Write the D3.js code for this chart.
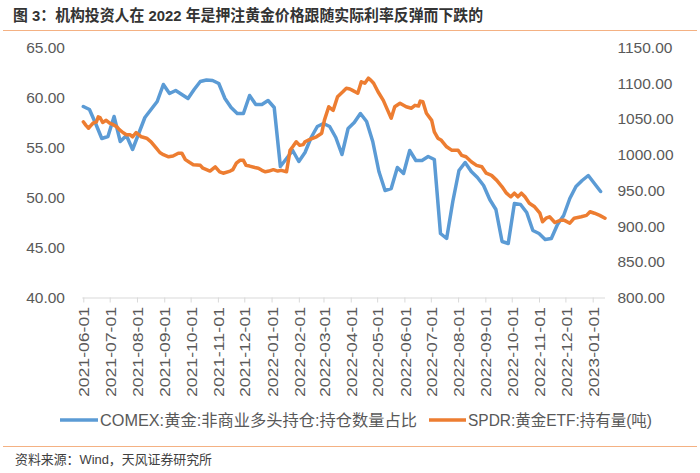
<!DOCTYPE html>
<html>
<head>
<meta charset="utf-8">
<script src="https://cdn.jsdelivr.net/npm/d3@7"></script>
<style>
  html, body { margin: 0; padding: 0; background: #ffffff; }
  svg { display: block; }
  text { font-family: "Liberation Sans", "Noto Sans CJK SC", sans-serif; }
</style>
</head>
<body>
<svg id="chart" width="700" height="473"></svg>
<script>
// ---------------- data ----------------
const titleText = "图 3：机构投资人在 2022 年是押注黄金价格跟随实际利率反弹而下跌的";
const sourceText = "资料来源：Wind，天风证券研究所";
const seriesNames = ["COMEX:黄金:非商业多头持仓:持仓数量占比", "SPDR:黄金ETF:持有量(吨)"];

// COMEX weekly (%), first week 2021-06-01
const comexStart = "2021-06-01";
const comexValues = [
  59.1, 58.8, 57.4, 55.9, 56.1, 58.1, 55.6, 56.2, 54.8, 56.4,
  58.0, 58.8, 59.6, 61.3, 60.4, 60.7, 60.3, 59.9, 60.8, 61.6,
  61.75, 61.7, 61.4, 59.9, 59.0, 58.4, 58.4, 60.2, 59.3, 59.3,
  59.7, 59.0, 53.1, 53.9, 54.7, 53.6, 54.5, 56.0, 57.1, 57.4,
  57.1, 56.0, 54.3, 56.9, 57.5, 58.4, 57.6, 55.6, 52.6, 50.7,
  50.9, 53.0, 52.4, 54.7, 53.7, 53.7, 54.1, 53.8, 46.4, 45.9,
  49.6, 52.7, 53.5, 52.6, 52.0, 51.2, 49.8, 48.8, 45.6, 45.4,
  49.4, 49.3, 48.5, 46.7, 46.4, 45.8, 45.9, 47.3, 48.2, 49.9,
  51.1, 51.7, 52.2, 51.4, 50.6
];

// SPDR holdings (tonnes)
const spdrDates = [
  "2021-06-01","2021-06-04","2021-06-07","2021-06-09","2021-06-12","2021-06-16","2021-06-18","2021-06-20","2021-06-23","2021-06-27",
  "2021-07-01","2021-07-05","2021-07-09","2021-07-12","2021-07-16","2021-07-20","2021-07-24","2021-07-27","2021-07-31","2021-08-06",
  "2021-08-12","2021-08-17","2021-08-23","2021-08-27","2021-08-31","2021-09-06","2021-09-11","2021-09-17","2021-09-21","2021-09-25",
  "2021-09-30","2021-10-04","2021-10-12","2021-10-15","2021-10-23","2021-10-29","2021-11-03","2021-11-07","2021-11-15","2021-11-18",
  "2021-11-22","2021-11-26","2021-11-30","2021-12-03","2021-12-07","2021-12-13","2021-12-17","2021-12-21","2021-12-25","2021-12-29",
  "2022-01-03","2022-01-08","2022-01-12","2022-01-18","2022-01-22","2022-01-25","2022-01-29","2022-02-02","2022-02-06","2022-02-08",
  "2022-02-13","2022-02-21","2022-02-27","2022-03-02","2022-03-07","2022-03-12","2022-03-17","2022-03-23","2022-03-27","2022-03-31",
  "2022-04-03","2022-04-09","2022-04-13","2022-04-17","2022-04-21","2022-04-24","2022-04-27","2022-05-02","2022-05-08","2022-05-13",
  "2022-05-17","2022-05-21","2022-05-27","2022-06-03","2022-06-09","2022-06-13","2022-06-17","2022-06-19","2022-06-22","2022-06-26",
  "2022-07-02","2022-07-05","2022-07-09","2022-07-13","2022-07-19","2022-07-25","2022-08-01","2022-08-05","2022-08-10","2022-08-16",
  "2022-08-22","2022-08-28","2022-09-02","2022-09-08","2022-09-14","2022-09-20","2022-09-25","2022-09-30","2022-10-04","2022-10-08",
  "2022-10-12","2022-10-16","2022-10-21","2022-10-27","2022-11-02","2022-11-05","2022-11-09","2022-11-13","2022-11-19","2022-11-25",
  "2022-11-30","2022-12-06","2022-12-11","2022-12-19","2022-12-25","2022-12-29","2023-01-03","2023-01-09","2023-01-15"
];
const spdrValues = [
  1046, 1041, 1037, 1040, 1044, 1046, 1053, 1052, 1045, 1048,
  1044, 1042, 1039, 1035, 1031, 1028, 1028, 1025, 1031, 1025,
  1023, 1018, 1009, 1003, 1000, 997, 998, 1002, 1002, 993,
  989, 986, 985, 981, 977, 983, 976, 974, 977, 979,
  988, 992, 992, 985, 984, 982, 981, 978, 976, 977,
  979, 977, 978, 976, 1006, 1011, 1018, 1013, 1014, 1018,
  1021, 1025, 1030, 1048, 1067, 1062, 1081, 1088, 1093, 1092,
  1090, 1086, 1102, 1100, 1107, 1104, 1100, 1088, 1076, 1062,
  1051, 1067, 1072, 1067, 1065, 1069, 1068, 1075, 1074, 1058,
  1048, 1032, 1023, 1020, 1011, 1006, 1006, 999, 997, 990,
  985, 983, 974, 971, 964, 955, 946, 941, 946, 941,
  946, 941, 932, 927, 918, 906, 911, 913, 905, 908,
  908, 904, 911, 913, 915, 920, 918, 915, 911
];

const monthTicks = [
  "2021-06-01","2021-07-01","2021-08-01","2021-09-01","2021-10-01","2021-11-01","2021-12-01",
  "2022-01-01","2022-02-01","2022-03-01","2022-04-01","2022-05-01","2022-06-01","2022-07-01",
  "2022-08-01","2022-09-01","2022-10-01","2022-11-01","2022-12-01","2023-01-01"
];
const xDomain = ["2021-06-01", "2023-01-15"];
const leftTicks = [40, 45, 50, 55, 60, 65];
const rightTicks = [800, 850, 900, 950, 1000, 1050, 1100, 1150];

// ---------------- drawing ----------------
const parse = d3.timeParse("%Y-%m-%d");
const svg = d3.select("#chart");
const grey = "#595959";
const blue = "#5B9BD5";
const orange = "#ED7D31";
const rule = "#F4B183";

const x = d3.scaleTime().domain(xDomain.map(parse)).range([83.3, 605]);
const yL = d3.scaleLinear().domain([40, 65]).range([297.5, 47.5]);
const yR = d3.scaleLinear().domain([800, 1150]).range([297.5, 47.5]);

// title
svg.append("text")
  .attr("x", 13).attr("y", 21)
  .attr("font-size", 15.5).attr("font-weight", "bold").attr("fill", "#333333")
  .attr("textLength", 470).attr("lengthAdjust", "spacingAndGlyphs")
  .text(titleText);
svg.append("line").attr("x1", 3).attr("x2", 697).attr("y1", 30.5).attr("y2", 30.5)
  .attr("stroke", rule).attr("stroke-width", 1.2);

// left axis
const gL = svg.append("g").attr("transform", "translate(65,0)")
  .call(d3.axisLeft(yL).tickValues(leftTicks).tickFormat(d3.format(".2f")).tickSize(0).tickPadding(0));
gL.select(".domain").remove();
gL.selectAll("text").attr("font-size", 15.5).attr("fill", grey)
  .attr("font-family", "'Liberation Sans', sans-serif");

// right axis
const gR = svg.append("g").attr("transform", "translate(617.5,0)")
  .call(d3.axisRight(yR).tickValues(rightTicks).tickFormat(d3.format(".2f")).tickSize(0).tickPadding(0));
gR.select(".domain").remove();
gR.selectAll("text").attr("font-size", 15.5).attr("fill", grey)
  .attr("font-family", "'Liberation Sans', sans-serif");

// bottom axis
const gX = svg.append("g").attr("transform", "translate(0,297.5)")
  .call(d3.axisBottom(x).tickValues(monthTicks.map(parse))
    .tickFormat(d3.timeFormat("%Y-%m-%d")).tickSize(5).tickSizeOuter(0).tickPadding(0));
gX.select(".domain").attr("stroke", "#D9D9D9").attr("stroke-width", 1)
  .attr("d", "M82.3,0.5H605");
gX.selectAll(".tick line").attr("stroke", "#D9D9D9");
gX.selectAll("text")
  .attr("font-size", 15.5).attr("fill", grey)
  .attr("font-family", "'Liberation Sans', sans-serif")
  .attr("transform", "rotate(-90)")
  .attr("text-anchor", "end")
  .attr("x", -9.5).attr("y", 0).attr("dy", "0.36em")
  .attr("textLength", 90).attr("lengthAdjust", "spacingAndGlyphs");

// lines
const comexData = comexValues.map((v, i) => ({ d: d3.timeDay.offset(parse(comexStart), 7 * i), v }));
const spdrData = spdrDates.map((s, i) => ({ d: parse(s), v: spdrValues[i] }));

svg.append("path").datum(comexData)
  .attr("fill", "none").attr("stroke", blue).attr("stroke-width", 3.5)
  .attr("stroke-linejoin", "round").attr("stroke-linecap", "round")
  .attr("d", d3.line().x(p => x(p.d)).y(p => yL(p.v)));

svg.append("path").datum(spdrData)
  .attr("fill", "none").attr("stroke", orange).attr("stroke-width", 3.5)
  .attr("stroke-linejoin", "round").attr("stroke-linecap", "round")
  .attr("d", d3.line().x(p => x(p.d)).y(p => yR(p.v)));

// legend
const legendY = 420;
const legend = [
  { x1: 60, x2: 98, tx: 100, tl: 317, color: blue, name: seriesNames[0] },
  { x1: 429, x2: 466, tx: 468, tl: 184, color: orange, name: seriesNames[1] }
];
legend.forEach(l => {
  svg.append("line").attr("x1", l.x1).attr("x2", l.x2).attr("y1", legendY).attr("y2", legendY)
    .attr("stroke", l.color).attr("stroke-width", 3.5);
  svg.append("text").attr("x", l.tx).attr("y", legendY).attr("dy", "0.36em")
    .attr("font-size", 16).attr("fill", grey)
    .attr("textLength", l.tl).attr("lengthAdjust", "spacingAndGlyphs")
    .text(l.name);
});

// bottom rule + source
svg.append("line").attr("x1", 3).attr("x2", 697).attr("y1", 446.5).attr("y2", 446.5)
  .attr("stroke", rule).attr("stroke-width", 1.2);
svg.append("text").attr("x", 15).attr("y", 459).attr("dy", "0.36em")
  .attr("font-size", 13).attr("fill", "#404040")
  .attr("textLength", 197).attr("lengthAdjust", "spacingAndGlyphs")
  .text(sourceText);
</script>
</body>
</html>
